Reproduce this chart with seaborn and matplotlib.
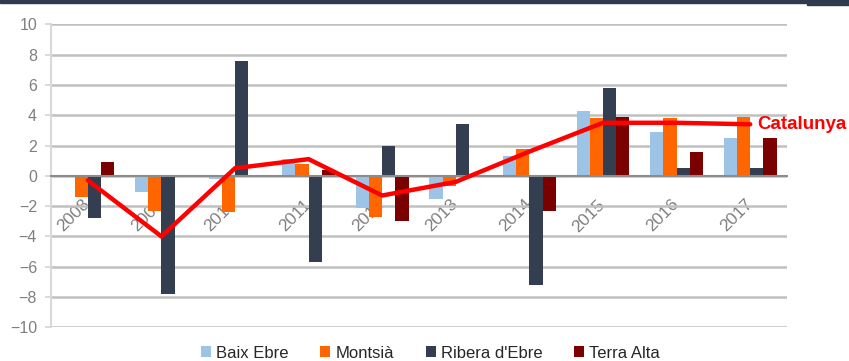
import numpy as np
import pandas as pd
import matplotlib
matplotlib.use('Agg')
import matplotlib.pyplot as plt
from matplotlib.patches import Rectangle
from matplotlib.ticker import FixedLocator
from matplotlib.transforms import ScaledTranslation
import seaborn as sns

years = ['2008', '2009', '2010', '2011', '2012', '2013', '2014', '2015', '2016', '2017']
regions = ['Baix Ebre', 'Montsià', "Ribera d'Ebre", 'Terra Alta']
baix_ebre = [0.0, -1.1, -0.2, 1.1, -2.1, -1.5, 1.3, 4.3, 2.9, 2.5]
montsia = [-1.4, -2.3, -2.4, 0.8, -2.7, -0.7, 1.8, 3.8, 3.8, 3.9]
ribera = [-2.8, -7.8, 7.6, -5.7, 2.0, 3.4, -7.2, 5.8, 0.5, 0.5]
terra_alta = [0.9, 0.0, 0.0, 0.4, -3.0, -0.1, -2.3, 3.9, 1.6, 2.5]
catalunya = [-0.3, -4.0, 0.5, 1.1, -1.3, -0.4, 1.6, 3.5, 3.5, 3.4]
colors = ['#9dc3e6', '#ff6600', '#333f50', '#7b0000']

df = pd.DataFrame({
    'year': years * 4,
    'region': sum([[r] * len(years) for r in regions], []),
    'value': baix_ebre + montsia + ribera + terra_alta,
})

sns.set_style('white')
plt.rcParams['font.family'] = ['Liberation Sans', 'DejaVu Sans']

fig = plt.figure(figsize=(8.49, 3.61), dpi=100)
ax = fig.add_axes([51 / 849, 1 - 327.3 / 361, (787 - 51) / 849, (327.3 - 24.3) / 361])

sns.barplot(data=df, x='year', y='value', hue='region', hue_order=regions,
            palette=colors, width=0.72, saturation=1, linewidth=0,
            edgecolor='none', ax=ax, legend=True)
ax.plot(np.arange(len(years)), catalunya, color='#ff0000', lw=3.2,
        solid_joinstyle='miter', zorder=5)
ax.text(9.09, catalunya[-1], 'Catalunya', color='#ff0000', fontsize=13.5,
        fontweight='bold', va='center', ha='left', clip_on=False)

ax.set_xlim(-0.5, 9.5)
ax.set_ylim(-10, 10)
ax.set_yticks(range(-10, 11, 2))
ax.yaxis.grid(True, color='#c0c0c0', lw=1.8)
ax.set_axisbelow(True)
ax.set_xlabel('')
ax.set_ylabel('')

for s in ['top', 'right']:
    ax.spines[s].set_visible(False)
ax.spines['left'].set_color('#d9d9d9')
ax.spines['left'].set_linewidth(1.5)
ax.spines['bottom'].set_position(('data', 0))
ax.spines['bottom'].set_color('#8c8c8c')
ax.spines['bottom'].set_linewidth(1.5)
ax.spines['bottom'].set_zorder(3)

ax.xaxis.set_minor_locator(FixedLocator(np.arange(-0.5, 10, 1)))
ax.tick_params(axis='x', which='major', length=0, pad=15, labelsize=12.5,
               labelcolor='#7f7f7f')
ax.tick_params(axis='x', which='minor', length=5, width=1.3, color='#8c8c8c',
               direction='out')
ax.tick_params(axis='y', length=4, width=1.3, color='#d9d9d9', labelsize=11.5,
               labelcolor='#7f7f7f', pad=6, left=True)
shift = ScaledTranslation(5 / 100, 0, fig.dpi_scale_trans)
for lab in ax.get_xticklabels():
    lab.set_rotation(45)
    lab.set_ha('right')
    lab.set_va('top')
    lab.set_transform(lab.get_transform() + shift)

handles, labels = ax.get_legend_handles_labels()
pairs = [(h, l) for h, l in zip(handles, labels) if l in regions]
ax.legend([p[0] for p in pairs], [p[1] for p in pairs], ncol=4, frameon=False,
          loc='center', bbox_to_anchor=(0.507, 0.022), bbox_transform=fig.transFigure,
          fontsize=12, handlelength=0.6, handleheight=0.6, handletextpad=0.3,
          columnspacing=1.9, borderpad=0)

fig.patches.append(Rectangle((0, 1 - 3 / 361), 1, 3 / 361, transform=fig.transFigure,
                             color='#2e3b4e', zorder=10))
fig.patches.append(Rectangle((807 / 849, 1 - 5 / 361), 42 / 849, 5 / 361,
                             transform=fig.transFigure, color='#2e3b4e', zorder=10))

fig.savefig('out.png', dpi=100)
